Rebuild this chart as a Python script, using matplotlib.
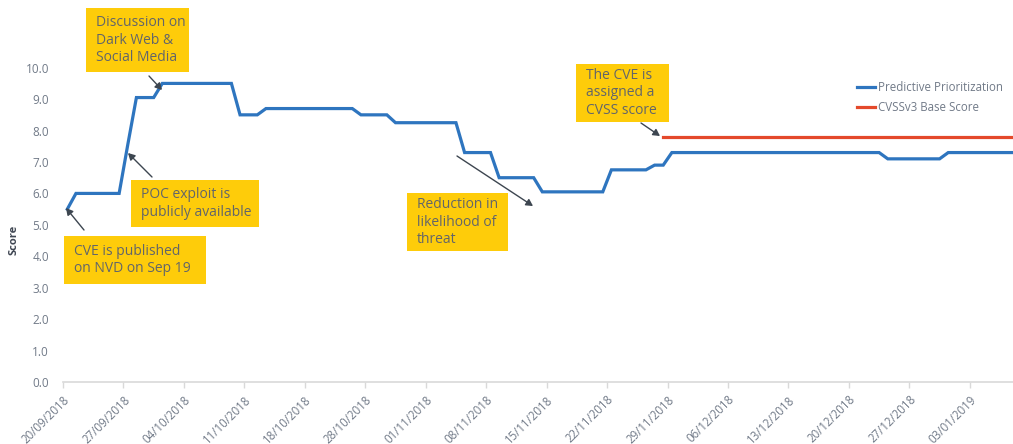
import numpy as np
import matplotlib
matplotlib.use("Agg")
import matplotlib.pyplot as plt
from matplotlib.patches import Rectangle

# ---------------- data ----------------
tick_labels = ["20/09/2018", "27/09/2018", "04/10/2018", "11/10/2018", "18/10/2018",
               "28/10/2018", "01/11/2018", "08/11/2018", "15/11/2018", "22/11/2018",
               "29/11/2018", "06/12/2018", "13/12/2018", "20/12/2018", "27/12/2018",
               "03/01/2019"]
predictive = [5.5, 6.0, 6.0, 6.0, 6.0, 6.0, 6.0, 7.55, 9.05, 9.05,
              9.05, 9.5, 9.5, 9.5, 9.5, 9.5, 9.5, 9.5, 9.5, 9.5,
              8.5, 8.5, 8.5, 8.7, 8.7, 8.7, 8.7, 8.7, 8.7, 8.7,
              8.7, 8.7, 8.7, 8.7, 8.5, 8.5, 8.5, 8.5, 8.25, 8.25,
              8.25, 8.25, 8.25, 8.25, 8.25, 8.25, 7.3, 7.3, 7.3, 7.3,
              6.5, 6.5, 6.5, 6.5, 6.5, 6.05, 6.05, 6.05, 6.05, 6.05,
              6.05, 6.05, 6.05, 6.75, 6.75, 6.75, 6.75, 6.75, 6.9, 6.9,
              7.3, 7.3, 7.3, 7.3, 7.3, 7.3, 7.3, 7.3, 7.3, 7.3,
              7.3, 7.3, 7.3, 7.3, 7.3, 7.3, 7.3, 7.3, 7.3, 7.3,
              7.3, 7.3, 7.3, 7.3, 7.3, 7.1, 7.1, 7.1, 7.1, 7.1,
              7.1, 7.1, 7.3, 7.3, 7.3, 7.3, 7.3, 7.3, 7.3, 7.3,
              7.3]
cvss_start = 69
cvss_score = 7.8
cvss = [np.nan] * cvss_start + [cvss_score] * (len(predictive) - cvss_start)
cats_per_tick = 7

# ---------------- style ----------------
plt.rcParams['font.family'] = ['Open Sans', 'DejaVu Sans']
W, H = 1013, 444
fig = plt.figure(figsize=(W / 100, H / 100), dpi=100)

def fx(x):
    return x / W

def fy(y):
    return 1 - y / H

ax_left, ax_right = 63, 1013
ax_top, ax_bottom = 67.7, 382
ax = fig.add_axes([fx(ax_left), fy(ax_bottom), fx(ax_right - ax_left), (ax_bottom - ax_top) / H])

blue = "#2E75BF"
red = "#E4492B"
grey_txt = "#717A88"
x = np.arange(len(predictive))
ax.plot(x, predictive, color=blue, lw=2.3, solid_joinstyle='miter', label="Predictive Prioritization")
ax.plot(x, cvss, color=red, lw=2.3, label="CVSSv3 Base Score")

ax.set_xlim(-0.5, 109.5)
ax.set_ylim(0, 10)
ax.set_yticks(np.arange(0, 10.5, 1.0))
ax.set_yticklabels([f"{v:.1f}" for v in np.arange(0, 10.5, 1.0)], color=grey_txt, fontsize=8.5)
ticks = [-0.5 + cats_per_tick * i for i in range(len(tick_labels))]
ax.set_xticks(ticks)
ax.set_xticklabels(tick_labels, rotation=45, ha='right', rotation_mode='anchor',
                   color=grey_txt, fontsize=8.3)
ax.tick_params(axis='y', length=0, pad=10)
ax.tick_params(axis='x', length=4, color="#D9D9D9", width=1, pad=4)
for s in ['top', 'right', 'left']:
    ax.spines[s].set_visible(False)
ax.spines['bottom'].set_color("#D9D9D9")
ax.spines['bottom'].set_linewidth(1.2)

fig.text(fx(14), fy(240), "Score", rotation=90, ha='center', va='center',
         fontsize=8, fontweight='bold', color="#3F4652")

leg = ax.legend(loc='upper right', bbox_to_anchor=(1.0, 0.992), frameon=False,
                fontsize=8.3, handlelength=1.5, handletextpad=0.25, labelspacing=0.65)
for t in leg.get_texts():
    t.set_color(grey_txt)

# ---------------- annotations ----------------
yellow = "#FECC0A"
txt_col = "#62656A"
boxes = [
    ((86, 8, 103, 64), "Discussion on\nDark Web &\nSocial Media"),
    ((131, 180, 128, 47), "POC exploit is\npublicly available"),
    ((64, 236, 142, 48), "CVE is published\non NVD on Sep 19"),
    ((407, 193, 101, 58), "Reduction in\nlikelihood of\nthreat"),
    ((576, 64, 93, 58), "The CVE is\nassigned a\nCVSS score"),
]
for (bx, by, bw, bh), label in boxes:
    fig.patches.append(Rectangle((fx(bx), fy(by + bh)), bw / W, bh / H,
                                 transform=fig.transFigure, facecolor=yellow,
                                 edgecolor='none', zorder=5))
    fig.text(fx(bx + 10), fy(by + bh / 2), label, ha='left', va='center',
             fontsize=10, color=txt_col, linespacing=1.22, zorder=6)

arrows = [
    ((149, 76), (162, 90)),
    ((152, 177), (128, 153)),
    ((84, 230), (66, 208)),
    ((457, 156), (533, 206)),
    ((641, 123), (660, 136)),
]
for (x0, y0), (x1, y1) in arrows:
    fig.add_artist(matplotlib.patches.FancyArrowPatch(
        (fx(x0), fy(y0)), (fx(x1), fy(y1)), transform=fig.transFigure,
        arrowstyle='-|>,head_length=4,head_width=2.2', color="#3D4650", lw=1.0,
        shrinkA=0, shrinkB=0, zorder=7))

fig.savefig("out.png", dpi=100)
